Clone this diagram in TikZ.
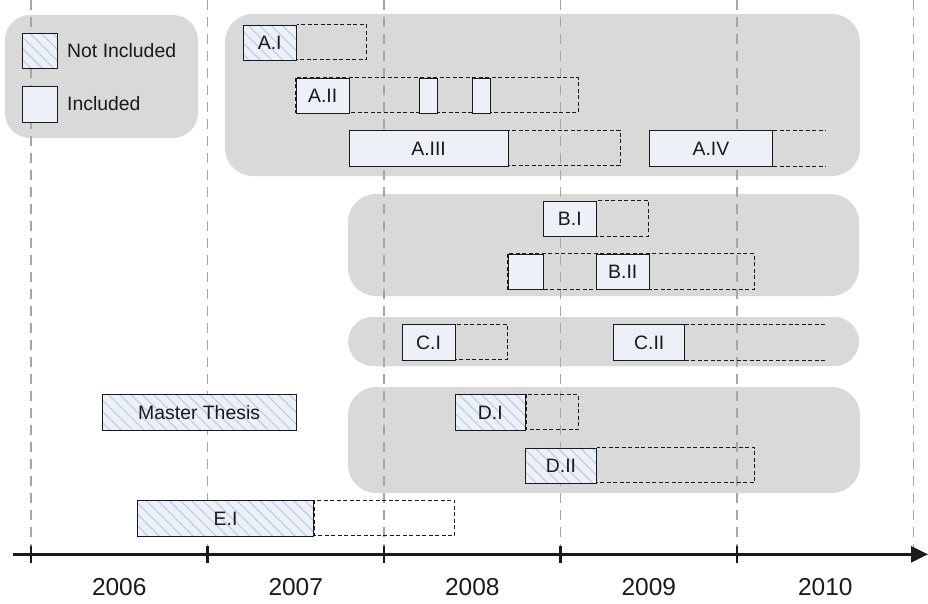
\documentclass[tikz,border=0pt]{standalone}
\usepackage{fontspec}
\setmainfont{Liberation Sans}
\usetikzlibrary{arrows.meta,patterns.meta}
\definecolor{groupgray}{HTML}{D9D9D9}
\definecolor{barfill}{HTML}{EDF0F6}
\definecolor{hatchblue}{HTML}{B9CCE8}
\definecolor{gridgray}{HTML}{A6A6A6}
\definecolor{ink}{HTML}{1A1A1A}

\begin{document}
\begin{tikzpicture}[x=1pt,y=-1pt,
  groupbox/.style={fill=groupgray, rounded corners=#1},
  groupbox/.default=26pt,
  yearline/.style={gridgray, line width=1.4pt, dash pattern=on 10pt off 7pt},
  bar/.style={draw=ink, line width=0.9pt, fill=barfill, anchor=north west,
    inner sep=0pt, minimum height=35.3pt, minimum width=#1, text=ink,
    font=\fontsize{19.4}{23}\selectfont},
  nbar/.style={bar=#1, preaction={fill=barfill},
    pattern={Lines[angle=-45,distance=8pt,line width=1.1pt]},
    pattern color=hatchblue},
  ext/.style={draw=ink, line width=0.8pt, dash pattern=on 4pt off 2.5pt},
  axisline/.style={ink, line width=2.6pt, -{Triangle[length=17pt,width=16pt]}},
  tickmark/.style={ink, line width=2.2pt},
  yearlabel/.style={text=ink, font=\fontsize{24.5}{28}\selectfont, inner sep=0pt},
  legendtext/.style={text=ink, font=\fontsize{19.4}{23}\selectfont, inner sep=0pt, anchor=west}
]
\useasboundingbox (0,0) rectangle (928,603);

% ---- grey group backgrounds ----
\fill[groupbox=25pt] (5,15) rectangle (198,138);
\fill[groupbox=28pt] (225,14) rectangle (860,176);
\fill[groupbox=28pt] (348,194) rectangle (859,296);
\fill[groupbox=24.5pt] (348,317) rectangle (859,366);
\fill[groupbox=28pt] (348,387) rectangle (860,493);

% ---- year boundaries ----
\foreach \xx in {31,207.5,384,560.5,737,913.5}
  \draw[yearline] (\xx,0) -- (\xx,548);

% ---- legend ----
\node[nbar=35pt, minimum height=35pt] (legN) at (22.3,33.3) {};
\node[bar=35pt, minimum height=35.5pt] (legI) at (22.3,86) {};
\node[legendtext] (legNt) at (67,51) {Not Included};
\node[legendtext] (legIt) at (67,103.5) {Included};

% ---- extension outlines (planned continuation) ----
\coordinate (AIend)   at (366.35,59.8);
\coordinate (AIIend)  at (578.15,112.8);
\coordinate (AIIIend) at (620,165.6);
\coordinate (AIVend)  at (825.25,0);
\coordinate (BIend)   at (648.75,236.1);
\coordinate (BIIend)  at (754.65,289.1);
\coordinate (CIend)   at (507.55,359.6);
\coordinate (CIIend)  at (825.25,0);
\coordinate (DIend)   at (578.15,429.7);
\coordinate (DIIend)  at (754.65,482.8);
\coordinate (EIend)   at (454.6,535.6);

% ---- group A ----
\node[nbar=52.95pt] (AI) at (242.8,24.5) {A.I};
\draw[ext] (AI.north east) rectangle (AIend);

\draw[ext] (295.75,77.5) rectangle (AIIend);
\node[bar=52.95pt] (AII) at (295.75,77.5) {A.II};
\node[bar=17.65pt] (AIIa) at (419.3,77.5) {};
\node[bar=17.65pt] (AIIb) at (472.25,77.5) {};

\node[bar=158.85pt] (AIII) at (348.7,130.3) {A.III};
\draw[ext] (AIII.north east) rectangle (AIIIend);

\node[bar=123.55pt] (AIV) at (648.75,130.3) {A.IV};
\draw[ext] (AIV.north east) -- (AIV.north east -| AIVend);
\draw[ext] (AIV.south east) -- (AIV.south east -| AIVend);

% ---- group B ----
\node[bar=52.95pt] (BI) at (542.85,200.8) {B.I};
\draw[ext] (BI.north east) rectangle (BIend);

\draw[ext] (507.55,253.8) rectangle (BIIend);
\node[bar=35.3pt] (BIIa) at (507.55,253.8) {};
\node[bar=52.95pt] (BII) at (595.8,253.8) {B.II};

% ---- group C ----
\node[bar=52.95pt] (CI) at (401.65,324.3) {C.I};
\draw[ext] (CI.north east) rectangle (CIend);

\node[bar=70.6pt] (CII) at (613.45,324.3) {C.II};
\draw[ext] (CII.north east) -- (CII.north east -| CIIend);
\draw[ext] (CII.south east) -- (CII.south east -| CIIend);

% ---- master thesis ----
\node[nbar=194.15pt] (MT) at (101.6,394.4) {Master Thesis};

% ---- group D ----
\node[nbar=70.6pt] (DI) at (454.6,394.4) {D.I};
\draw[ext] (DI.north east) rectangle (DIend);

\node[nbar=70.6pt] (DII) at (525.2,447.5) {D.II};
\draw[ext] (DII.north east) rectangle (DIIend);

% ---- E ----
\node[nbar=176.5pt] (EI) at (136.9,500.3) {E.I};
\draw[ext] (EI.north east) rectangle (EIend);

% ---- time axis ----
\coordinate (axS) at (13,554.3);
\coordinate (axE) at (928,554.3);
\draw[axisline] (axS) -- (axE);
\foreach \xx in {31,207.5,384,560.5,737}
  \draw[tickmark] (\xx,545.5) -- (\xx,562.5);

\node[yearlabel] (y2006) at (119.25,587.3) {2006};
\node[yearlabel] (y2007) at (295.75,587.3) {2007};
\node[yearlabel] (y2008) at (472.25,587.3) {2008};
\node[yearlabel] (y2009) at (648.75,587.3) {2009};
\node[yearlabel] (y2010) at (825.25,587.3) {2010};
\end{tikzpicture}
\end{document}
